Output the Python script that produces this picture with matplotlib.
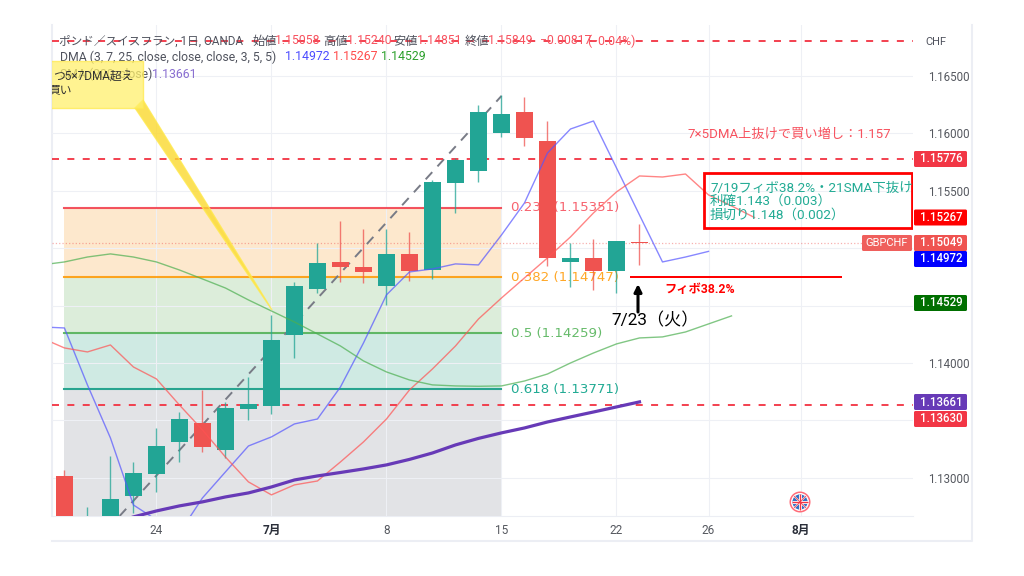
import matplotlib
matplotlib.use("Agg")
import matplotlib.pyplot as plt
from matplotlib.lines import Line2D
from matplotlib.patches import Circle, Polygon, Rectangle, FancyBboxPatch
from matplotlib.transforms import Affine2D

plt.rcParams['font.family'] = ['Roboto', 'Noto Sans CJK JP', 'DejaVu Sans']

# daily bars, x = bars from 1 July
bar_x = list(range(-9, 17))
opens = [1.13018, 1.1250, 1.1262, 1.12842, 1.13036, 1.13312, 1.13478, 1.1324, 1.13597, 1.13623, 1.14241, 1.14645, 1.1488,
         1.14839, 1.14673, 1.14952, 1.14807, 1.15568, 1.15672, 1.1600, 1.16184, 1.15936, 1.1488, 1.14912, 1.14801, 1.15058]
highs = [1.13068, 1.12748, 1.13193, 1.13135, 1.13431, 1.1357, 1.13765, 1.1366, 1.13881, 1.14418, 1.14703, 1.15043, 1.1524,
         1.15165, 1.15167, 1.15141, 1.15594, 1.15786, 1.16247, 1.16335, 1.1632, 1.16111, 1.15043, 1.1508, 1.15065, 1.1521]
lows = [1.1240, 1.1245, 1.1250, 1.12693, 1.12879, 1.13135, 1.13222, 1.1317, 1.13503, 1.13556, 1.14047, 1.14607, 1.14708,
        1.14694, 1.14505, 1.14714, 1.14732, 1.15304, 1.15574, 1.15966, 1.15893, 1.14848, 1.14659, 1.14636, 1.14607, 1.14851]
closes = [1.1250, 1.1262, 1.12815, 1.13039, 1.13277, 1.13512, 1.13266, 1.13605, 1.1364, 1.142, 1.14671, 1.14871, 1.14833,
          1.14793, 1.14952, 1.14799, 1.15579, 1.15768, 1.16184, 1.16166, 1.1596, 1.14915, 1.14912, 1.14799, 1.15065, 1.15049]

# moving averages, they are displaced forward so they run past the last bar
blue_x = list(range(-10, 20))
blue_ma = [1.14314, 1.14305, 1.13809, 1.13347, 1.12763, 1.12633, 1.1252, 1.12824, 1.13051, 1.13277, 1.13356, 1.13469,
           1.13512, 1.13791, 1.14174, 1.14593, 1.14793, 1.14819, 1.14863, 1.14854, 1.15115, 1.15394, 1.15829, 1.16038,
           1.16108, 1.15699, 1.15289, 1.1488, 1.14923, 1.14972]
red_x = list(range(-10, 22))
red_ma = [1.14218, 1.14131, 1.14096, 1.14157, 1.13965, 1.13861, 1.13634, 1.13417, 1.13181, 1.12964, 1.12851, 1.12938,
          1.12972, 1.13138, 1.13312, 1.13512, 1.13765, 1.13948, 1.14148, 1.14383, 1.14566, 1.14741, 1.14915, 1.15098,
          1.15307, 1.1549, 1.15629, 1.1562, 1.15646, 1.15464, 1.15368, 1.15267]
green_x = list(range(-10, 21))
green_ma = [1.14854, 1.1488, 1.14923, 1.1495, 1.14923, 1.1488, 1.1481, 1.14732, 1.14653, 1.14549, 1.14453, 1.14357,
            1.14253, 1.14148, 1.14018, 1.13922, 1.13852, 1.13809, 1.138, 1.13797, 1.138, 1.13843, 1.13904, 1.14, 1.14087,
            1.14166, 1.14218, 1.14227, 1.1427, 1.1434, 1.1441]
sma_x = list(range(-6, 17))
sma_200 = [1.12659, 1.12711, 1.12755, 1.1279, 1.12833, 1.12868, 1.1292, 1.12981, 1.13016, 1.13046, 1.13077, 1.13112,
           1.1316, 1.13216, 1.13286, 1.13343, 1.13391, 1.13434, 1.13486, 1.1353, 1.13573, 1.13617, 1.13661]

fib_levels = [1.15351, 1.14747, 1.14259, 1.13771]
fib_labels = ['0.236 (1.15351)', '0.382 (1.14747)', '0.5 (1.14259)', '0.618 (1.13771)']
fib_colors = ['#f23645', '#ff9800', '#4caf50', '#089981']
fib_text_colors = ['#f7636f', '#ffa726', '#66bb6a', '#22ab94']
fib_fills = ['#fde8cd', '#dcedda', '#cfeae3']
hlines = [1.16805, 1.15776, 1.1363]
last_price = 1.15049

price_ticks = [1.13, 1.135, 1.14, 1.145, 1.15, 1.155, 1.16, 1.165]
price_labels = ['1.13000', '', '1.14000', '', '', '1.15500', '1.16000', '1.16500']
time_ticks = [-5, 0, 5, 10, 15, 19, 23]
time_labels = ['24', '7月', '8', '15', '22', '26', '8月']

fig = plt.figure(figsize=(10.24, 5.76), dpi=100)
ax = fig.add_axes([52 / 1024, 1 - 516 / 576, (913 - 52) / 1024, (516 - 25) / 576])
# image pixel coordinates, for the things drawn on top of the chart
px = Affine2D().scale(1 / 1024, -1 / 576).translate(0, 1) + fig.transFigure

ax.set_xlim(-9.54, 27.89)
ax.set_ylim(1.12667, 1.16944)
ax.yaxis.tick_right()
ax.set_yticks(price_ticks, price_labels)
ax.set_xticks(time_ticks, time_labels)
ax.tick_params(axis='y', length=0, pad=10.5, labelsize=8.3, labelcolor='#55585f')
ax.tick_params(axis='x', length=0, pad=6, labelsize=8.5, labelcolor='#55585f')
for lab in ax.get_xticklabels():
    if '月' in lab.get_text():
        lab.set_fontweight('bold')
        lab.set_color('#2a2e39')
ax.grid(color='#eef0f5', lw=0.8, zorder=2)
ax.set_axisbelow(False)
for s in ['top', 'right']:
    ax.spines[s].set_visible(False)
for s in ['left', 'bottom']:
    ax.spines[s].set_color('#eceef4')
ax.spines['left'].set_linewidth(1.5)

# fib retracement
fib_x = [-9, 10]
bands = fib_levels + [1.12667]
for i, c in enumerate(fib_fills + ['#e2e3e6']):
    ax.fill_between(fib_x, bands[i], bands[i + 1], color=c, lw=0, zorder=1)
for v, c, tc, lab in zip(fib_levels, fib_colors, fib_text_colors, fib_labels):
    ax.plot(fib_x, [v, v], color=c, lw=1.5, alpha=0.85, zorder=3)
    ax.text(10.4, v, lab, color=tc, fontsize=9.6, family='DejaVu Sans', va='center', zorder=3)

ax.plot([-6.6, 10], [1.12667, 1.16326], color='#787b86', lw=1.4, ls=(0, (5, 4)), zorder=4)

for v in hlines:
    ax.plot([-9.54, 27.89], [v, v], color='#f23645', lw=1.4, ls=(0, (3.6, 4.3)), alpha=0.95, zorder=5)
ax.plot([-9.54, 25.7], [last_price, last_price], color='#ef5350', lw=0.9, ls=':', alpha=0.45, zorder=3)

# candles
for x, o, h, l, c in zip(bar_x, opens, highs, lows, closes):
    col = '#22a595' if c >= o else '#ef5350'
    ax.vlines(x, l, h, color=col, lw=1.0, alpha=0.75, zorder=6)
    ax.bar(x, abs(c - o), bottom=min(o, c), width=0.74, color=col, lw=0, zorder=7)

ax.plot(blue_x, blue_ma, color='#5555ff', lw=1.0, alpha=0.7, zorder=8)
ax.plot(red_x, red_ma, color='#ff5252', lw=1.0, alpha=0.7, zorder=8)
ax.plot(green_x, green_ma, color='#4caf50', lw=1.0, alpha=0.7, zorder=8)
ax.plot(sma_x, sma_200, color='#673ab7', lw=2.3, zorder=8)


def label(x, y, s, **kw):
    kw.setdefault('fontsize', 8.8)
    kw.setdefault('color', '#50535e')
    kw.setdefault('va', 'center')
    kw.setdefault('zorder', 9)
    return ax.text(x, y, s, transform=px, **kw)


# legend rows
red_txt = '#f7525f'
label(59, 41, 'ポンド／スイスフラン, 1日, OANDA', fontsize=8.4)
label(252, 41, '始値')
label(275, 41, '1.15058', color=red_txt)
label(323, 41, '高値')
label(347, 41, '1.15240', color=red_txt)
label(393, 41, '安値')
label(417, 41, '1.14851', color=red_txt)
label(465, 41, '終値')
label(488, 41, '1.15849', color=red_txt)
label(540, 41, '−0.00817', color=red_txt)
label(587, 41, '(−0.04%)', color=red_txt)
label(60, 57, 'DMA (3, 7, 25, close, close, close, 3, 5, 5)')
label(285, 57, '1.14972', color='#4c4cff')
label(333, 57, '1.15267', color='#ff4c4c')
label(381, 57, '1.14529', color='#2ca02c')
label(60, 74, 'SMA (200, close)')
label(152, 74, '1.13661', color='#8a6fd1')

# yellow callout
ax.add_patch(Polygon([[135, 108], [143, 100], [272, 310]], closed=True, transform=px, fc='#fbd92e', ec='#ffe94d', lw=1,
                     alpha=0.8, zorder=10))
ax.add_patch(Rectangle((40, 61), 103, 47, transform=px, fc='#fff06c', ec='#ffe94d', lw=1, alpha=0.75, zorder=10,
                       clip_path=ax.patch))
label(53, 76, 'つ5×7DMA超え', color='#333333', zorder=11, fontsize=8.5)
label(48, 90, '買い', color='#333333', zorder=11, clip_on=True, fontsize=8.5)

# annotations
label(687, 134, '7×5DMA上抜けで買い増し：1.157', color='#f7525f', fontsize=9.5)
ax.add_patch(Rectangle((703.5, 172.5), 208.5, 55, transform=px, fc='none', ec='#ff0000', lw=2, zorder=9))
label(710, 188, '7/19フィボ38.2%・21SMA下抜け', color='#22ab94', fontsize=9.7)
label(710, 201, '利確1.143（0.003）', color='#22ab94', fontsize=9.7)
label(710, 215, '損切り1.148（0.002）', color='#22ab94', fontsize=9.7)
ax.add_patch(Rectangle((630, 276), 212, 2.4, transform=px, fc='#ff0000', lw=0, zorder=9))
label(664, 290, 'フィボ38.2%', color='#ff0000', fontsize=8.8, fontweight='bold')
ax.annotate('', xy=(638, 284), xytext=(638, 312), xycoords=px, textcoords=px, zorder=9,
            arrowprops=dict(arrowstyle='-|>', color='black', lw=2.2, mutation_scale=11, shrinkA=0, shrinkB=0))
label(611, 320, '7/23（火）', color='black', fontsize=12.3)

# price tags on the right
tags = [('1.15776', 159, '#f23645'), ('1.15267', 217.5, '#ff0000'), ('1.15049', 243, '#ef5350'),
        ('1.14972', 259, '#0000ff'), ('1.14529', 303, '#006f00'), ('1.13661', 402, '#673ab7'), ('1.13630', 419, '#f23645')]
for s, y, c in tags:
    ax.add_patch(FancyBboxPatch((914, y - 8), 53, 16, boxstyle='round,pad=0,rounding_size=1.5', transform=px, fc=c,
                                lw=0, zorder=9, clip_on=False))
    label(941, y, s, color='white', fontsize=8.3, ha='center', zorder=10, fontweight='medium')
ax.add_patch(FancyBboxPatch((862, 235), 50, 16, boxstyle='round,pad=0,rounding_size=1.5', transform=px, fc='#ef5f5c',
                            lw=0, zorder=9, clip_on=False))
label(887, 243.5, 'GBPCHF', color='white', fontsize=8, ha='center', zorder=10)
label(936, 42, 'CHF', fontsize=8, ha='center', zorder=10)

# outer frame and the flag event marker
fig.add_artist(Line2D([52, 972, 972], [541, 541, 25], transform=px, color='#eceef4', lw=1.5))
ax.add_patch(Circle((800, 502), 10.5, transform=px, fc='#ff6b78', lw=0, zorder=9))
ax.add_patch(Circle((800, 502), 8.3, transform=px, fc='#2f6fc4', ec='white', lw=1, zorder=10))
for dx, dy in [(8, 0), (0, 8), (6, 6), (6, -6)]:
    lw = 2.2 if dx == 0 or dy == 0 else 1.2
    ax.plot([800 - dx, 800 + dx], [502 - dy, 502 + dy], transform=px, color='white', lw=lw, zorder=11,
            solid_capstyle='butt')
    ax.plot([800 - dx, 800 + dx], [502 - dy, 502 + dy], transform=px, color='#f23645', lw=lw * 0.45, zorder=12,
            solid_capstyle='butt')

fig.savefig('out.png', dpi=100)
